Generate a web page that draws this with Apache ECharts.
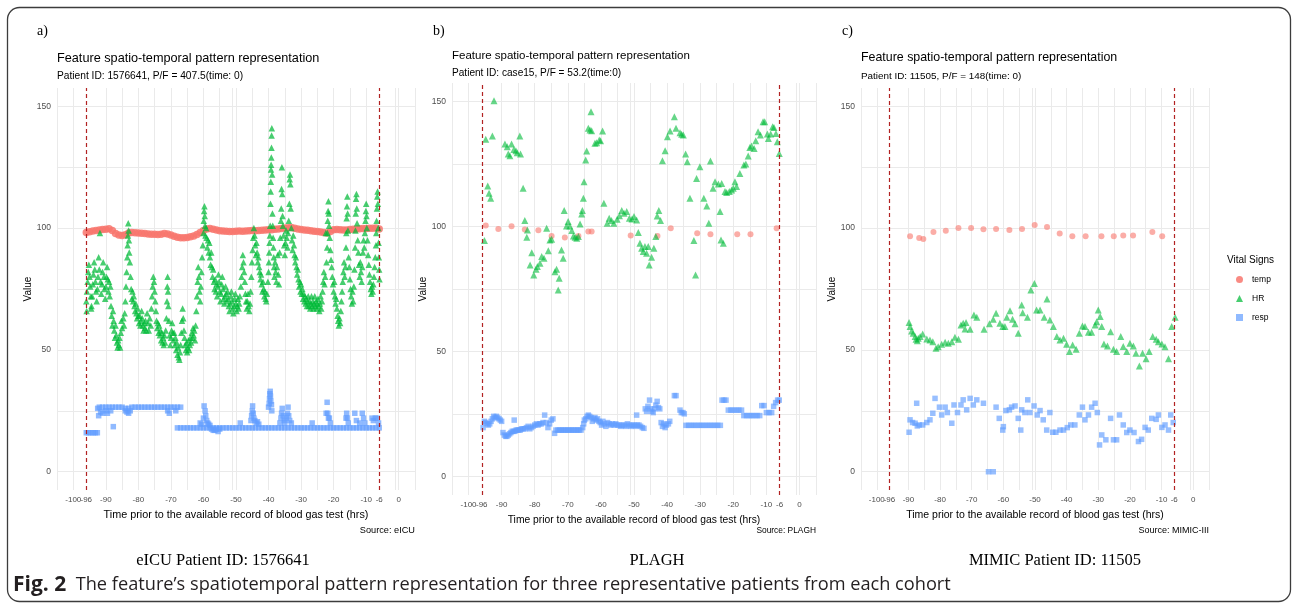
<!DOCTYPE html>
<html><head><meta charset="utf-8">
<script src="https://cdn.jsdelivr.net/npm/echarts@6/dist/echarts.min.js"></script>
<style>html,body{margin:0;padding:0;background:#fff}#c{width:1292px;height:604px}</style>
</head><body><div id="c"></div>
<script>
// ---------- axis breaks ----------
const xBreaks = [-100,-96,-90,-80,-70,-60,-50,-40,-30,-20,-10,-6,0];
const xGridLines = [-105,-100,-90,-85,-80,-75,-70,-65,-60,-55,-51,-50,-45,-40,-35,-30,-25,-20,-15,-10,-1,0,5];
const yBreaks = [0,50,100,150];
const yGridLines = [0,25,50,75,100,125,150];
const windowLines = [-96,-6];
const seriesNames = ['temp','HR','resp'];

// ---------- panel a (eICU 1576641) ----------
const tempA = [[-96,98.2],[-95,98.5],[-94,98.8],[-93,99.0],[-92,99.2],[-91,99.4],[-90,99.5],[-89,99.7],[-88,99.0],[-87,97.8],[-86,97.2],[-85,97.0],[-84,97.3],[-83,98.0],[-82,98.2],[-81,98.1],[-80,98.0],[-79,97.9],[-78,97.8],[-77,97.6],[-76,97.5],[-75,97.5],[-74,97.4],[-73,97.5],[-72,97.8],[-71,97.6],[-70,97.2],[-69,96.6],[-68,96.2],[-67,96.0],[-66,96.0],[-65,96.1],[-64,96.4],[-63,96.8],[-62,97.4],[-61,98.2],[-60,99.0],[-59,99.6],[-58,99.8],[-57,99.5],[-56,99.2],[-55,98.9],[-54,98.8],[-53,98.7],[-52,98.6],[-51,98.6],[-50,98.7],[-49,98.8],[-48,98.7],[-47,98.8],[-46,98.9],[-45,99.0],[-44,98.9],[-43,99.0],[-42,99.1],[-41,99.2],[-40,99.3],[-39,99.3],[-38,99.5],[-37,99.6],[-36,99.8],[-35,100.0],[-34,100.1],[-33,100.2],[-32,99.9],[-31,99.6],[-30,99.4],[-29,99.2],[-28,99.1],[-27,98.9],[-26,98.7],[-25,98.6],[-24,98.4],[-23,98.2],[-22,98.0],[-21,98.6],[-20,99.3],[-19,99.4],[-18,99.3],[-17,99.2],[-16,99.2],[-15,99.4],[-14,99.5],[-13,99.6],[-12,99.7],[-11,99.8],[-10,99.8],[-9,99.9],[-8,99.9],[-7,100.0],[-6,99.6]];
const hrA = [[-96,70],[-95.9,66],[-95.8,74],[-95.6,78],[-95.4,82],[-95.2,85],[-95,80],[-94.8,76],[-94.6,72],[-94.5,67],[-94.4,68],[-94.2,72],[-94,77],[-93.8,81],[-93.6,86],[-93.4,83],[-93.2,78],
[-93,74],[-92.8,70],[-92.6,75],[-92.4,80],[-92.2,88],[-92,83],[-91.8,98],[-91.6,78],[-91.4,73],[-91.2,77],[-91,82],[-90.8,86],[-90.6,80],[-90.4,75],[-90.2,71],[-90,76],[-89.8,80],[-89.6,84],[-89.4,79],[-89.2,74],[-89,78],[-88.8,72],[-88.6,76],
[-88.4,68],[-88.2,64],[-88,60],[-87.8,66],[-87.6,62],[-87.4,58],[-87.2,55],[-87,60],[-86.8,56],[-86.6,53],[-86.4,51],[-86.2,54],[-86,52],[-85.8,55],[-85.6,51],[-85.4,57],[-85.2,62],[-85,59],
[-84.6,63],[-84.4,60],[-84.2,65],[-84,70],[-83.8,76],[-83.6,82],[-83.4,88],[-83.3,93],[-83.2,97],[-83.1,102],[-83,99],[-82.9,95],[-82.8,90],[-82.6,86],[-82.4,80],[-82.2,75],[-82,71],
[-81.8,74],[-81.6,70],[-81.4,72],[-81.2,68],[-81,66],[-80.8,69],[-80.6,65],[-80.4,63],[-80.2,67],[-80,64],[-79.8,61],[-79.6,64],[-79.4,60],[-79.2,62],[-79,66],[-78.8,63],[-78.6,60],[-78.4,58],[-78.2,61],[-78,59],[-77.8,62],[-77.6,58],
[-77.3,65],[-77,61],[-76.8,58],[-76.5,63],[-76.2,60],[-76,67],[-75.8,72],[-75.6,76],[-75.4,80],[-75.2,78],[-75,74],[-74.8,70],
[-74.6,66],[-74.4,62],[-74.2,59],[-74,61],[-73.8,57],[-73.6,60],[-73.4,56],[-73.2,58],[-73,54],[-72.8,57],[-72.6,53],[-72.4,55],[-72.2,52],[-72,56],[-71.8,53],[-71.6,58],[-71.4,63],[-71.2,70],[-71.1,76],[-71,80],[-70.9,74],[-70.8,68],[-70.6,62],[-70.4,56],[-70.2,52],
[-70,55],[-69.8,58],[-69.6,61],[-69.4,57],[-69.2,54],[-69,57],[-68.8,52],[-68.6,55],[-68.4,50],[-68.2,53],[-68,48],[-67.8,51],[-67.6,47],[-67.4,46],[-67.2,49],
[-67,52],[-66.8,57],[-66.6,62],[-66.4,67],[-66.2,63],[-66,58],[-65.8,55],[-65.6,52],[-65.4,50],[-65.2,53],[-65,49],[-64.8,51],[-64.6,54],[-64.4,50],[-64.2,52],[-64,55],[-63.8,53],[-63.6,57],[-63.4,55],[-63.2,59],[-63,56],[-62.8,58],[-62.6,54],[-62.4,60],[-62.2,66],[-62,72],[-61.8,78],[-61.6,84],[-61.4,80],[-61.2,74],[-61,70],
[-60.8,76],[-60.6,82],[-60.4,88],[-60.2,93],[-60,98],[-59.9,103],[-59.8,107],[-59.7,109],[-59.6,105],[-59.5,101],[-59.4,97],[-59.2,100],[-59,96],[-58.8,92],[-58.6,95],[-58.4,90],
[-58.2,94],[-58,88],[-57.8,85],[-57.6,90],[-57.4,84],[-57.2,80],[-57,83],[-56.8,78],[-56.6,75],[-56.4,79],[-56.2,74],[-56,77],
[-55.8,72],[-55.6,76],[-55.4,81],[-55.2,78],[-55,74],[-54.8,70],[-54.6,73],[-54.4,77],[-54.2,80],[-54,75],[-53.8,71],[-53.6,69],[-53.4,72],[-53.2,76],[-53,73],[-52.8,70],
[-52.6,74],[-52.4,71],[-52.2,68],[-52,66],[-51.8,69],[-51.6,72],[-51.4,74],[-51.2,70],[-51,67],[-50.8,65],[-50.6,68],[-50.4,71],[-50.2,73],[-50,69],[-49.8,66],[-49.6,68],[-49.4,71],[-49.2,67],[-49,69],[-48.8,72],
[-48.5,76],[-48.3,80],[-48.1,84],[-47.9,89],[-47.7,86],[-47.5,82],[-47.3,78],
[-47.1,73],[-46.9,70],[-46.7,67],[-46.5,70],[-46.3,73],[-46.1,68],[-45.9,66],[-45.7,69],
[-45.5,74],[-45.3,80],[-45.1,86],[-44.9,91],[-44.7,96],[-44.5,100],[-44.3,97],[-44.1,93],[-43.9,89],[-43.7,94],[-43.5,90],[-43.3,86],[-43.1,88],[-42.9,84],
[-42.7,82],[-42.5,79],[-42.3,81],[-42.1,77],[-41.9,74],[-41.7,78],[-41.5,75],[-41.3,72],[-41.1,74],[-40.9,71],[-40.7,70],[-40.5,73],
[-40.2,78],[-40,82],[-39.9,86],[-39.8,90],[-39.7,94],[-39.6,97],[-39.5,101],[-39.4,110],[-39.35,115],[-39.3,119],[-39.25,124],[-39.2,126],[-39.15,129],[-39.1,133],[-39.05,138],[-39,141],[-38.9,122],[-38.8,106],[-38.7,101],[-38.6,96],[-38.5,92],[-38.4,88],[-38.3,84],[-38.2,80],
[-38,86],[-37.8,82],[-37.6,78],[-37.4,84],[-37.2,89],[-37,81],[-36.8,77],
[-36.6,90],[-36.4,96],[-36.2,103],[-36.1,108],[-36,116],[-35.9,125],[-35.8,114],[-35.7,105],[-35.6,101],[-35.4,97],[-35.2,93],[-35,89],[-34.8,94],[-34.6,99],[-34.4,96],[-34.2,92],
[-34,98],[-33.8,103],[-33.6,110],[-33.5,120],[-33.4,122],[-33.3,118],[-33.2,108],[-33,100],[-32.8,95],[-32.6,91],[-32.4,97],[-32.2,93],
[-32,89],[-31.8,86],[-31.6,88],[-31.4,84],[-31.2,81],[-31,83],[-30.8,79],[-30.6,76],[-30.4,78],[-30.2,74],[-30,77],[-29.8,73],[-29.6,75],[-29.4,71],[-29.2,73],[-29,70],[-28.8,72],
[-28.6,69],[-28.4,71],[-28.2,68],[-28,70],[-27.8,72],[-27.6,68],[-27.4,70],[-27.2,67],[-27,69],[-26.8,72],[-26.6,68],[-26.4,70],[-26.2,67],[-26,69],[-25.8,72],[-25.6,68],[-25.4,70],[-25.2,67],[-25,69],[-24.8,71],[-24.6,68],[-24.4,66],[-24.2,69],[-24,72],[-23.8,67],[-23.6,70],[-23.4,74],[-23.2,78],[-23,82],[-22.8,77],[-22.6,80],[-22.4,98],
[-22.2,86],[-22,92],[-21.9,98],[-21.8,103],[-21.7,107],[-21.6,111],[-21.5,106],[-21.4,101],[-21.2,96],[-21,91],[-20.8,87],
[-20.6,84],[-20.4,80],[-20.2,77],[-20,74],[-19.8,78],[-19.6,72],[-19.4,69],[-19.2,71],[-19,67],[-18.8,64],[-18.6,62],[-18.4,60],[-18.2,63],[-18,61],[-17.8,66],[-17.6,70],
[-17.4,74],[-17.2,78],[-17,82],[-16.8,86],[-16.6,80],[-16.4,84],[-16.2,92],[-16.1,98],[-16,104],[-15.9,109],[-15.8,113],[-15.7,106],[-15.6,99],[-15.4,88],[-15.2,84],[-15,79],[-14.8,75],
[-14.6,72],[-14.4,69],[-14.2,74],[-14,70],[-13.8,76],[-13.6,83],[-13.4,92],[-13.3,99],[-13.2,106],[-13.1,112],[-13,114],[-12.9,108],[-12.8,102],[-12.6,95],[-12.4,90],[-12.2,85],[-12,80],
[-11.8,86],[-11.6,82],[-11.4,78],[-11.2,84],[-11,90],[-10.8,95],[-10.6,92],[-10.4,98],[-10.2,103],[-10.1,107],[-10,110],[-9.9,105],[-9.8,100],[-9.6,95],[-9.4,89],[-9.2,85],
[-9,81],[-8.8,78],[-8.6,75],[-8.4,73],[-8.2,76],[-8,74],[-7.8,77],[-7.6,80],[-7.4,84],
[-7.2,88],[-7,93],[-6.9,98],[-6.8,103],[-6.7,108],[-6.6,113],[-6.5,115],[-6.4,110],[-6.3,100],[-6.2,94],[-6.1,88],[-6,83],[-5.9,79]];
const respA = [[-96,16],[-95.3,16],[-94.6,16],[-93.9,16],[-93.2,16],[-92.6,16],
[-92.5,26],[-92,26.5],[-91,26.5],[-90,26.5],[-89,26.5],[-88,26.5],[-87,26.5],[-86,26.5],[-85,26.5],[-84,26],[-83,26],[-82,26.5],[-81,26.5],[-80,26.5],[-79,26.5],[-78,26.5],[-77,26.5],[-76,26.5],[-75,26.5],[-74,26.5],[-73,26.5],[-72,26.5],[-71,26.5],[-70,26.5],[-69,26.5],[-68,26.5],[-67,26.5],
[-92.2,23],[-91.6,24.5],[-91,24],[-90,25],[-89.5,24],[-88.5,25],[-87.7,18.5],[-84,25],[-83.5,24.5],[-83,24],[-82.5,25],[-71,25],[-70.5,24],[-68.5,25],
[-68,18],[-67,18],[-66,18],[-65,18],[-64,18],[-63,18],[-62,18],[-61,18],[-60,18],[-59,18],[-58,18],[-57,18],[-56,18],[-55,18],[-54,18],[-53,18],[-52,18],[-51,18],[-50,18],[-49,18],[-48,18],[-47,18],[-46,18],[-45,18],[-44,18],[-43,18],[-42,18],[-41,18],[-40,18],[-39,18],[-38,18],[-37,18],[-36,18],[-35,18],[-34,18],[-33,18],[-32,18],[-31,18],[-30,18],[-29,18],[-28,18],[-27,18],[-26,18],[-25,18],[-24,18],[-23,18],[-22,18],[-21,18],[-20,18],[-19,18],[-18,18],[-17,18],[-16,18],[-15,18],[-14,18],[-13,18],[-12,18],[-11,18],[-10,18],[-9,18],[-8,18],[-7,18],[-6,18],
[-61,20],[-60.5,19.5],[-60,22],[-59.8,27],[-59.5,25],[-59.3,23],[-59,21],[-58.7,20],[-58.4,19.5],[-58,19],[-57.5,17.5],[-57,17],[-56.5,17],[-56,17.5],[-55.5,16.5],[-55,17.5],
[-48.7,20],
[-45.4,21],[-45.2,23],[-45,25],[-44.9,27],[-44.7,24],[-44.5,22],[-44.2,21],[-43.8,20],[-43.4,20.5],[-43,19.5],
[-40,26.5],[-39.8,28],[-39.7,30],[-39.6,32],[-39.5,33],[-39.4,31],[-39.3,29],[-39.1,27.5],[-39,25],
[-36.5,20],[-36.2,22],[-36,24],[-35.8,26],[-35.5,23],[-35.2,21],[-35,20],[-34.5,22],[-34.2,24],[-34,26.5],[-33.8,23],[-33.5,21],[-33,20],
[-26.6,20],
[-22.3,24],[-22,28.5],[-21.8,24],[-21.6,22],[-21.3,22],[-21,20],
[-16.2,22],[-16,24],[-15.8,22],[-15.5,20],
[-13.5,24],[-13,21],[-12,20],[-11.2,24],[-10.8,22],[-10.4,20],
[-8.2,22],[-7.8,21],[-7.2,22],[-6.6,22],[-6.2,20]];

// ---------- panel b (PLAGH case15) ----------
const tempB = [[-94.8,100.4],[-91,99.0],[-87,100.1],[-83,98.8],[-78.9,98.5],[-74.9,96.2],[-70.9,95.6],[-66.8,96.2],[-63.8,98],[-62.8,98],[-51,96.4],[-42.9,96.2],[-38.9,99.3],[-30.9,97.3],[-26.9,96.9],[-18.8,96.9],[-14.8,96.9],[-6.9,99.3]];
const hrB = [[-95.2,94.4],[-94.8,135],[-94.2,116.3],[-93.8,113.3],[-93.3,111.3],[-92.8,136.3],[-92.3,150.4],[-89,133.1],[-88.3,132],[-88,129.1],[-87.5,128.4],[-87,133.1],[-86.3,130.9],[-85.7,130.4],[-85.3,129.6],[-84.5,136.3],[-84.3,129.1],[-83.5,115.3],[-83,102.4],[-82.4,95.7],[-82.2,98.6],[-80.9,89.5],[-81.4,84.6],[-80.3,80.6],[-79.6,82.9],[-79.2,84],[-78.4,85.3],[-77.9,88],[-77.2,87.3],[-76.4,99.3],[-75.9,90.3],[-75.4,94.6],[-74.9,94.9],[-73.9,81.9],[-73.4,82.9],[-72.6,79.3],[-72.9,74.6],[-71.9,90.6],[-71.4,87.3],[-71.1,106.4],[-70.4,100.2],[-69.9,102],[-69.4,100.2],[-68.8,98.4],[-68.3,96.2],[-67.8,95.7],[-67.3,95.3],[-66.8,96],[-66.3,101],[-65.8,105],[-65.6,106.4],[-65.3,111.3],[-65.1,118],[-64.6,126.7],[-64.3,130.3],[-63.8,139.4],[-63.3,138.7],[-63,146],[-62.8,138.4],[-61.8,133.4],[-61.3,133.6],[-60.5,134.7],[-60.1,134.4],[-59.5,138.3],[-59.1,109.3],[-58.1,101.3],[-57.5,103.3],[-56.8,102.4],[-56.1,101.3],[-55.1,102.9],[-54.4,104.3],[-53.7,106.4],[-53,105.3],[-52.2,106],[-51.4,103.3],[-50.6,103],[-50,104],[-49.2,102.6],[-48.7,97.6],[-48.2,93.3],[-47.7,91.3],[-47.2,90],[-46.7,92],[-46.2,89.3],[-45.7,92],[-45.4,84.6],[-44.7,87.7],[-44,91.3],[-43.4,96],[-43,104.2],[-42.5,106.4],[-42,102.4],[-41.4,126.4],[-40.6,130.4],[-39.9,136],[-39.1,138.3],[-37.8,144],[-37.3,139.4],[-36.1,137.6],[-35.6,137],[-35.1,136.7],[-34.4,129.1],[-33.9,126],[-33.1,111.3],[-31.9,94.4],[-31.4,80.6],[-31.1,119.3],[-30.1,124],[-28.9,111.3],[-28,108.2],[-27.4,101.3],[-26.9,126.3],[-26.1,115.3],[-25.5,118],[-24.5,117.1],[-24,106],[-23.5,117.3],[-23.7,94.6],[-23,93.3],[-22.5,114],[-22,113.6],[-21.2,114],[-20.5,114.6],[-20,115.3],[-19.5,118],[-19,116],[-18,121.3],[-16.8,124.7],[-16.2,125.1],[-15.5,128.3],[-15,131.7],[-14.5,132.3],[-13.7,131.3],[-13.2,134.4],[-12.5,138],[-11.8,136.7],[-11,142],[-10.5,142],[-9.7,137.1],[-9.4,135.3],[-8.7,137.1],[-8.1,140],[-7.7,139.7],[-7.1,137.3],[-6.7,134],[-6.1,129.3]];
const respB = [[-95.6,19.5],[-95.2,22],[-94.8,21.5],[-94.4,21],[-94,20.5],[-93.6,21],[-93.2,22],[-92.8,23],[-92.4,24],[-92,23.5],[-91.6,24],[-91.2,23.5],[-90.8,23],[-90.4,22.5],[-90,22],
[-89.6,17.5],[-89.2,16.5],[-88.8,16],[-88.4,16],[-88,16.5],[-87.6,17],[-87.2,17.5],[-86.8,18],[-86.4,18],[-86.2,22.5],[-86,18],[-85.6,18.5],[-85.2,18.5],[-84.8,18.5],[-84.4,18.5],[-84,19],[-83.5,19],[-83,19],[-82.5,19.5],[-82,20],[-81.5,19],[-81,19.5],[-80.5,20],[-80,20.5],[-79.5,21],[-79,20.5],[-78.5,21],[-78,21],[-77.5,21.5],[-77,24.5],[-76.5,21.5],[-76,19.5],[-75.5,21],[-75,22.5],[-74.5,23],[-74,17.2],[-73.6,18.5],[-73,18.5],[-72.5,18.5],[-72,18.5],[-71.5,18.5],[-71,18.5],[-70.5,18.5],[-70,18.5],[-69.5,18.5],[-69,18.5],[-68.5,18.5],[-68,18.5],[-67.5,18.5],[-67,18.5],[-66.5,18.5],[-66,18.5],[-65.5,19.5],[-65.2,21],[-65,22.5],[-64.6,23],[-64.2,24],[-63.8,24.5],[-63.4,24],[-63,23.5],[-62.6,22],[-62.2,23],[-61.8,23.5],[-61.4,22.5],[-61,23],[-60.6,22],[-60.2,21.5],[-59.8,20.5],[-59.4,22],[-59,21],[-58.5,20],[-58,21.5],[-57.5,21],[-57,20.5],[-56.5,21],[-56,20.5],[-55.5,21],[-55,20.5],[-54.5,20.5],[-54,20],[-53.5,20.5],[-53,20.5],[-52.5,20],[-52,21],[-51.5,20.5],[-51,20],[-50.5,20.5],[-50,20.5],[-49.5,20],[-49.2,24.5],[-49,20.5],[-48.5,20.5],[-48,20],[-47.5,19.5],[-47,19.2],[-46.6,27],[-46.2,26],[-45.8,28],[-45.3,30.5],[-45,27],[-44.6,26],[-44.2,25.5],[-43.8,27],[-43.4,28.5],[-43,30],[-42.6,27.5],[-42.2,27],[-41.8,21.5],[-41.4,20],[-41,21],[-40.6,19.5],[-40.2,20.5],[-39.6,21],[-39.2,22],[-37.8,32.3],[-37.3,32.3],[-36.1,26.5],[-35.7,25.5],[-35.2,25.5],[-34.8,25],
[-34.3,20.4],[-33.5,20.4],[-32.7,20.4],[-31.9,20.4],[-31.1,20.4],[-30.3,20.4],[-29.5,20.4],[-28.7,20.4],[-27.9,20.4],[-27.1,20.4],[-26.3,20.4],[-25.5,20.4],[-24.7,20.4],[-23.9,20.4],
[-23.4,30.5],[-22.8,30.5],[-22.2,30.5],[-21.5,26.5],[-20.7,26.5],[-19.9,26.5],[-19.1,26.5],[-18.3,26.5],[-17.5,26.5],[-16.8,24.3],[-16,24.3],[-15.2,24.3],[-14.4,24.3],[-13.6,24.3],[-12.8,24.3],[-12,24.3],[-11.4,28.3],[-10.7,28.3],[-10,25.5],[-9.2,25.5],[-8.4,25.5],[-7.8,28],[-7.2,29.5],[-6.6,30.5],[-6.1,30.5]];

// ---------- panel c (MIMIC-III 11505) ----------
const tempC = [[-89.5,96.6],[-86.6,95.9],[-85.3,95.5],[-82.1,98.4],[-78.2,98.9],[-74.2,100],[-70.2,100],[-66.3,99.5],[-62.3,99.6],[-58.1,99.2],[-54.1,99.6],[-50.1,101.3],[-46.2,100.4],[-42.2,97.8],[-38.2,96.6],[-34,96.6],[-29,96.6],[-25.1,96.6],[-22.1,97],[-19,97],[-12.9,98.4],[-9.8,96.6]];
const hrC = [[-89.8,61.2],[-89.5,59.6],[-89,57.8],[-88.5,56.8],[-87.9,55.5],[-87.6,54.4],[-87.2,53.8],[-86.9,54.8],[-86.3,55.5],[-85.5,56.5],[-84.2,54.5],[-83.2,54.1],[-82.3,53.4],[-81.3,50.7],[-80.6,51.3],[-79.5,52.3],[-78.4,53.1],[-77.4,52.7],[-76.3,53.4],[-75.3,55.2],[-74.2,54.4],[-73.4,60.2],[-72.7,60.9],[-71.8,61.2],[-72.1,58.6],[-70.5,58.5],[-69.3,64.3],[-68.4,63.4],[-66.1,58.5],[-64.4,60.7],[-63.2,62.6],[-62.3,65],[-61.1,60.9],[-60.2,59.6],[-59.5,59.6],[-58.9,63.4],[-57.9,66.1],[-57.1,62.6],[-56.3,60.7],[-55.3,56.8],[-54.2,68.4],[-53.9,65.3],[-52.4,63.4],[-51.3,74.6],[-50.2,77.3],[-49.5,66.4],[-48.4,66.4],[-47.1,63.4],[-46.2,70.9],[-45.3,62.3],[-44.2,59.6],[-43.1,55.5],[-42.1,54.1],[-41,54.8],[-40,52.3],[-39.1,49.3],[-38.1,52],[-37,50.3],[-36,56.8],[-35,59.8],[-34.2,59.6],[-33.1,57.2],[-32.1,57.2],[-31,60.2],[-30.5,61.6],[-30,66.4],[-29.4,63.7],[-28.9,59.6],[-28.2,52.4],[-27.1,51.6],[-26.1,57.5],[-25.2,50.3],[-24.2,49.3],[-22.9,55.5],[-22.1,51.4],[-21,49.3],[-20,52.7],[-18.9,51.6],[-18.1,48.6],[-17,43.4],[-16,48.6],[-14.9,46.4],[-13.9,49.3],[-12.8,55.5],[-11.7,54.4],[-11,53.4],[-9.9,52.4],[-8.9,51.3],[-7.8,46.4],[-6.8,59.6],[-5.7,63.4]];
const respC = [[-89.8,16.2],[-89.5,21.3],[-88.7,20.2],[-87.9,19.9],[-87.2,18.8],[-87.4,28.1],[-86.6,19.2],[-85.5,19.2],[-84.2,20.2],[-83.2,21.3],[-82.3,24],[-81.6,30.1],[-80.2,26.5],[-79.5,23.3],[-78.4,26.5],[-77.7,24.3],[-76.3,19.9],[-75.6,27.4],[-74.5,24.3],[-73.4,27.4],[-72.7,29.5],[-71.6,25.4],[-70.5,30.1],[-69.5,27.4],[-68.4,29.5],[-66.3,28.1],[-64.7,0],[-63.2,0],[-62.3,26.5],[-61.3,21.9],[-60.2,17.1],[-60,18.5],[-59.2,25.1],[-58.1,25.4],[-57.4,26.5],[-56.3,27],[-55.3,21.9],[-54.5,17.1],[-54.2,25.4],[-53.2,24.3],[-52.3,29.5],[-51.6,24.3],[-50.3,27],[-49.3,23.3],[-48.4,25.1],[-47.4,21.3],[-46.3,17.1],[-45.3,24.3],[-44.4,16.2],[-43.4,16.2],[-42.1,17.1],[-41,17.1],[-39.8,18.1],[-38.7,19.2],[-37.4,19.2],[-36,23.3],[-35,26.5],[-34.2,21.3],[-33.1,23.3],[-32.1,26.5],[-31,28.1],[-30.3,24.3],[-29.6,11],[-28.9,15.1],[-27.6,13.1],[-25.2,13.1],[-24.2,13.1],[-26.1,21.9],[-23.3,23.3],[-22.1,19.2],[-21,16.1],[-20,17.1],[-18.7,16.1],[-17.3,12.4],[-16.3,13.3],[-15.2,18.2],[-14.2,17.1],[-13.1,21.9],[-11.7,21.5],[-11,23.3],[-9.9,18.2],[-8.9,19.2],[-7.8,17.1],[-7.1,23.3],[-6.3,20.2]];

// ---------- layout / style ----------
const SANS = '"Liberation Sans", Arial, sans-serif';
const SERIF = '"Liberation Serif", "Times New Roman", serif';
const CAPFONT = '"Open Sans", "Noto Sans", sans-serif';
const COLORS = {temp:'#F8766D', HR:'#00BA38', resp:'#619CFF'};

const panels = [
  {grid:{left:57, top:88, width:358, height:402}, data:[tempA, hrA, respA], tag:'a)', tagX:37,
   title:'Feature spatio-temporal pattern representation', tSize:12.7, tY:58,
   sub:'Patient ID: 1576641, P/F = 407.5(time: 0)', sSize:10.2, sY:76,
   xTitleSize:10.8, source:'Source: eICU', srcSize:9.2, caption:'eICU Patient ID: 1576641', capX:223,
   sizes:[7.5, 6.5, 5.5], ops:[0.85, 0.72, 0.7]},
  {grid:{left:452, top:83, width:364, height:412}, data:[tempB, hrB, respB], tag:'b)', tagX:433,
   title:'Feature spatio-temporal pattern representation', tSize:11.5, tY:56,
   sub:'Patient ID: case15, P/F = 53.2(time:0)', sSize:10.1, sY:73,
   xTitleSize:10.3, source:'Source: PLAGH', srcSize:8.4, caption:'PLAGH', capX:657,
   sizes:[6, 7, 5.5], ops:[0.6, 0.6, 0.65]},
  {grid:{left:861, top:88, width:348, height:402}, data:[tempC, hrC, respC], tag:'c)', tagX:842,
   title:'Feature spatio-temporal pattern representation', tSize:12.4, tY:58,
   sub:'Patient ID: 11505, P/F = 148(time: 0)', sSize:9.9, sY:76,
   xTitleSize:10.5, source:'Source: MIMIC-III', srcSize:9, caption:'MIMIC Patient ID: 11505', capX:1055,
   sizes:[6, 7, 5.5], ops:[0.6, 0.6, 0.65]}
];

const isIn = (arr, v) => arr.some(b => Math.abs(b - v) < 1e-6);

const grids = [], xAxes = [], yAxes = [], series = [], graphics = [];
graphics.push({type:'rect', silent:true, z:-10, shape:{x:7.5, y:7.5, width:1283, height:594, r:12},
  style:{fill:'none', stroke:'#3c3c3c', lineWidth:1.3}});

panels.forEach((p, i) => {
  grids.push(Object.assign({containLabel:false}, p.grid));
  xAxes.push({type:'value', gridIndex:i, min:-105, max:5, interval:1,
    name:'Time prior to the available record of blood gas test (hrs)', nameLocation:'middle', nameGap:20,
    nameTextStyle:{fontFamily:SANS, fontSize:p.xTitleSize, color:'#000'},
    axisLine:{show:false}, axisTick:{show:false}, splitLine:{show:false},
    axisLabel:{margin:6, fontFamily:SANS, fontSize:8, color:'#4D4D4D',
      formatter: v => isIn(xBreaks, v) ? String(Math.round(v)) : ''}});
  yAxes.push({type:'value', gridIndex:i, min:-7.5, max:157.5, interval:2.5,
    name:'Value', nameLocation:'middle', nameGap:20, nameRotate:90,
    nameTextStyle:{fontFamily:SANS, fontSize:10, color:'#000'},
    axisLine:{show:false}, axisTick:{show:false}, splitLine:{show:false},
    axisLabel:{margin:6, fontFamily:SANS, fontSize:8.5, color:'#4D4D4D',
      formatter: v => isIn(yBreaks, v) ? String(Math.round(v)) : ''}});
  // grid lines
  series.push({type:'scatter', name:'gridlines'+i, xAxisIndex:i, yAxisIndex:i, data:[], silent:true,
    markLine:{silent:true, z:1, symbol:['none','none'], label:{show:false}, animation:false,
      lineStyle:{color:'#EAEAEA', width:1, type:'solid'}, emphasis:{disabled:true},
      data:[...xGridLines.map(v => ({xAxis:v})), ...yGridLines.map(v => ({yAxis:v}))]}});
  const syms = ['circle','triangle','rect'];
  seriesNames.forEach((nm, k) => {
    series.push({type:'scatter', name:nm, xAxisIndex:i, yAxisIndex:i, data:p.data[k], z:2+k,
      symbol:syms[k], symbolSize:p.sizes[k], silent:true,
      itemStyle:{color:COLORS[nm], opacity:p.ops[k]}});
  });
  // observation window lines
  series.push({type:'scatter', name:'window'+i, xAxisIndex:i, yAxisIndex:i, data:[], silent:true, z:6,
    markLine:{silent:true, z:6, symbol:['none','none'], label:{show:false}, animation:false,
      lineStyle:{color:'#B22222', width:1.2, type:[4,3]}, emphasis:{disabled:true},
      data: windowLines.map(v => ({xAxis:v}))}});

  const g = p.grid;
  graphics.push({type:'text', x:p.tagX, y:31, silent:true,
    style:{text:p.tag, fontFamily:SERIF, fontSize:14, fill:'#000', verticalAlign:'middle'}});
  graphics.push({type:'text', x:g.left, y:p.tY, silent:true,
    style:{text:p.title, fontFamily:SANS, fontSize:p.tSize, fill:'#000', verticalAlign:'middle'}});
  graphics.push({type:'text', x:g.left, y:p.sY, silent:true,
    style:{text:p.sub, fontFamily:SANS, fontSize:p.sSize, fill:'#000', verticalAlign:'middle'}});
  graphics.push({type:'text', x:g.left + g.width, y:530.5, silent:true,
    style:{text:p.source, fontFamily:SANS, fontSize:p.srcSize, fill:'#000', align:'right', verticalAlign:'middle'}});
  graphics.push({type:'text', x:p.capX, y:561, silent:true,
    style:{text:p.caption, fontFamily:SERIF, fontSize:16.5, fill:'#000', align:'center', verticalAlign:'middle'}});
});

graphics.push({type:'text', x:1227, y:260, silent:true,
  style:{text:'Vital Signs', fontFamily:SANS, fontSize:10, fill:'#000', verticalAlign:'middle'}});
graphics.push({type:'text', x:13, y:585, silent:true,
  style:{text:'{b|Fig. 2}{r|  The feature\u2019s spatiotemporal pattern representation for three representative patients from each cohort}',
    verticalAlign:'middle',
    rich:{b:{fontFamily:CAPFONT, fontWeight:'bold', fontSize:21, fill:'#231F20'},
          r:{fontFamily:CAPFONT, fontSize:18.2, fill:'#231F20'}}}});

const chart = echarts.init(document.getElementById('c'), null, {renderer:'canvas'});
chart.setOption({
  animation:false,
  backgroundColor:'#fff',
  grid:grids, xAxis:xAxes, yAxis:yAxes, series:series,
  legend:{orient:'vertical', left:1231, top:270, itemWidth:7, itemHeight:7, itemGap:10, selectedMode:false,
    textStyle:{fontFamily:SANS, fontSize:8.5, color:'#000', padding:[0,0,0,4]},
    data:[{name:'temp', icon:'circle'},{name:'HR', icon:'triangle'},{name:'resp', icon:'rect'}]},
  graphic:graphics
});
</script>
</body></html>
